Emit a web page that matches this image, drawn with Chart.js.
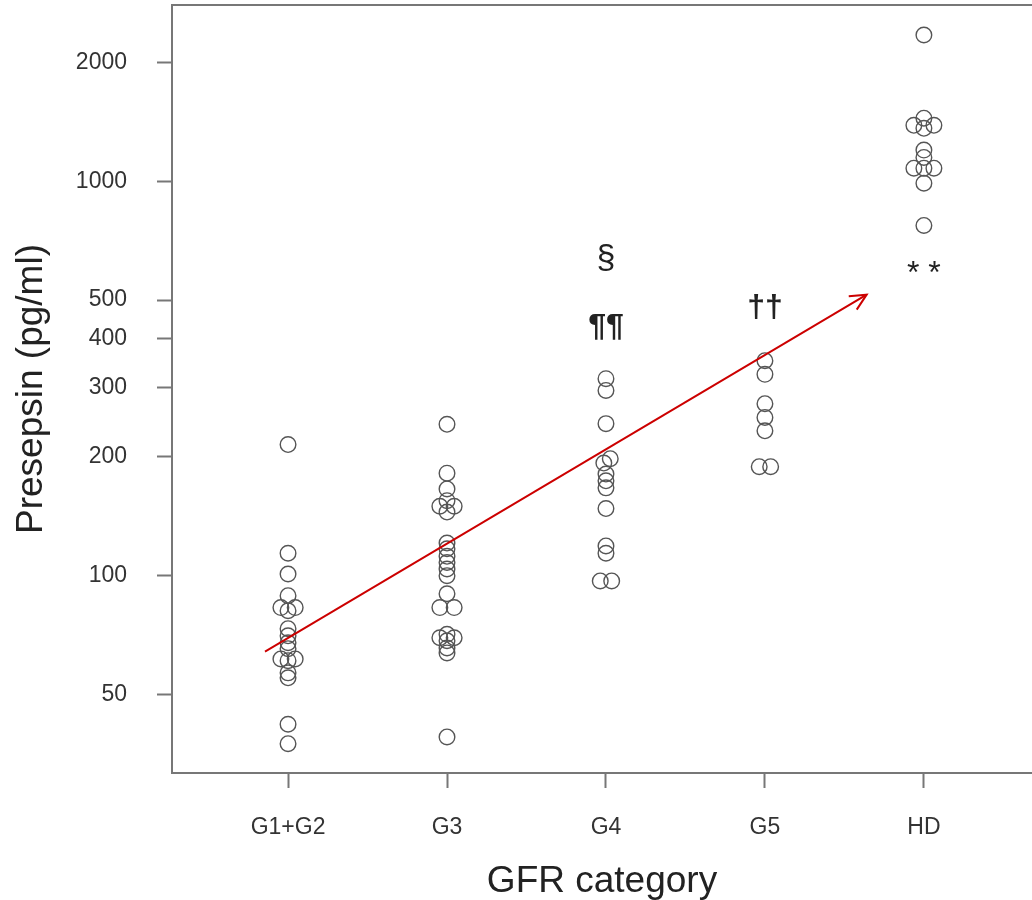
<!DOCTYPE html>
<html>
<head>
<meta charset="utf-8">
<script src="https://cdn.jsdelivr.net/npm/chart.js@4.4.1/dist/chart.umd.min.js"></script>
<style>
  html, body { margin: 0; padding: 0; background: #fff; }
</style>
</head>
<body>
<canvas id="chart" width="1032" height="900"></canvas>
<script>
const categories = ["G1+G2", "G3", "G4", "G5", "HD"];
const yTicks = [50, 100, 200, 300, 400, 500, 1000, 2000];

// presepsin per patient (pg/ml).
// jitter = sideways nudge of overlapping circles, in steps of JITTER_STEP
const g12Values = [215, 114, 101, 89, 83, 83, 81.5, 73.4, 70.4, 67.6, 65.3, 61.5, 61.5, 60.9, 56.7, 55.1, 42, 37.5];
const g12Jitter = [0, 0, 0, 0, -1, 1, 0, 0, 0, 0, 0, -1, 1, 0, 0, 0, 0, 0];
const g3Values = [242, 182, 166, 155, 150, 150, 145, 121, 117, 112, 108, 104, 100, 90, 83, 83, 71, 69.6, 69.6, 68.4, 65.6, 63.7, 39];
const g3Jitter = [0, 0, 0, 0, -1, 1, 0, 0, 0, 0, 0, 0, 0, 0, -1, 1, 0, -1, 1, 0, 0, 0, 0];
const g4Values = [316, 295, 243, 198, 193, 181, 174, 167, 148, 119, 114, 97, 97];
const g4Jitter = [0, 0, 0, 0.6, -0.3, 0, 0, 0, 0, 0, 0, -0.8, 0.8];
const g5Values = [351, 324, 273, 252, 233, 189, 189];
const g5Jitter = [0, 0, 0, 0, 0, -0.8, 0.8];
const hdValues = [2350, 1446, 1387, 1387, 1363, 1200, 1150, 1080, 1080, 1080, 989, 773];
const hdJitter = [0, 0, -1.4, 1.4, 0, 0, 0, -1.4, 0, 1.4, 0, 0];

// trend arrow (category position, pg/ml)
const arrowX = [0.855, 4.64];
const arrowY = [64.2, 516];

// significance marks above the groups
const markLabels = ["§", "¶¶", "††", "* *"];
const markCats = [3, 3, 4, 5];
const markValues = [638, 426, 476, 601];

const JITTER_STEP = 0.045;
const FONT = "'Liberation Sans', Arial, sans-serif";
const AXIS_GREY = "#777";

const groups = [
  [g12Values, g12Jitter], [g3Values, g3Jitter], [g4Values, g4Jitter],
  [g5Values, g5Jitter], [hdValues, hdJitter],
];

const pointSets = groups.map(([vals, jit], i) => ({
  label: categories[i],
  data: vals.map((v, k) => ({ x: i + 1 + jit[k] * JITTER_STEP, y: v })),
  pointStyle: "circle",
  pointRadius: 7.8,
  pointHoverRadius: 7.8,
  pointBorderWidth: 1.4,
  pointBorderColor: "#555",
  pointBackgroundColor: "rgba(0,0,0,0)",
  showLine: false,
}));

const arrowSet = {
  label: "trend",
  type: "line",
  data: arrowX.map((x, i) => ({ x, y: arrowY[i] })),
  borderColor: "#cc0000",
  borderWidth: 2,
  pointRadius: 0,
  fill: false,
};

// top frame line, arrow head, and the § ¶ † * marks
const extras = {
  id: "extras",
  afterDatasetsDraw(c) {
    const { ctx, chartArea: a, scales: { x, y } } = c;
    ctx.save();
    ctx.strokeStyle = AXIS_GREY;
    ctx.lineWidth = 2;
    ctx.beginPath();
    ctx.moveTo(a.left - 1, a.top);
    ctx.lineTo(a.right + 2, a.top);
    ctx.stroke();

    const x0 = x.getPixelForValue(arrowX[0]), y0 = y.getPixelForValue(arrowY[0]);
    const x1 = x.getPixelForValue(arrowX[1]), y1 = y.getPixelForValue(arrowY[1]);
    const ang = Math.atan2(y1 - y0, x1 - x0);
    const len = 18, spread = 0.45;
    ctx.strokeStyle = "#cc0000";
    ctx.lineWidth = 2;
    ctx.beginPath();
    ctx.moveTo(x1 - len * Math.cos(ang - spread), y1 - len * Math.sin(ang - spread));
    ctx.lineTo(x1, y1);
    ctx.lineTo(x1 - len * Math.cos(ang + spread), y1 - len * Math.sin(ang + spread));
    ctx.stroke();

    ctx.fillStyle = "#222";
    ctx.textAlign = "center";
    ctx.textBaseline = "middle";
    markLabels.forEach((t, i) => {
      const bold = t.startsWith("¶") || t.startsWith("†");
      const size = t.startsWith("*") ? "32px " : t.startsWith("§") ? "34px " : "32px ";
      ctx.font = (bold ? "bold " : "") + size + FONT;
      const dy = t.startsWith("*") ? 6 : 0;
      ctx.fillText(t, x.getPixelForValue(markCats[i]), y.getPixelForValue(markValues[i]) + dy);
    });
    ctx.restore();
  },
};

new Chart(document.getElementById("chart").getContext("2d"), {
  type: "scatter",
  data: { datasets: [arrowSet, ...pointSets] },
  options: {
    responsive: false,
    animation: false,
    devicePixelRatio: 1,
    layout: { autoPadding: false, padding: { top: 5, right: 0, bottom: 0, left: 0 } },
    plugins: { legend: { display: false }, tooltip: { enabled: false } },
    scales: {
      x: {
        type: "linear",
        min: 0.27,
        max: 5.68,
        afterBuildTicks: (s) => { s.ticks = categories.map((_, i) => ({ value: i + 1 })); },
        afterFit: (s) => { s.height = 127; s.paddingLeft = 0; s.paddingRight = 0; },
        ticks: {
          callback: (v) => categories[v - 1],
          color: "#333",
          font: { family: FONT, size: 23 },
          padding: 26,
          maxRotation: 0,
          autoSkip: false,
        },
        grid: { drawOnChartArea: false, drawTicks: true, tickLength: 15, tickColor: AXIS_GREY, tickWidth: 2 },
        border: { display: true, color: AXIS_GREY, width: 2 },
        title: {
          display: true,
          text: "GFR category",
          color: "#222",
          font: { family: FONT, size: 37, lineHeight: 1 },
          padding: { top: 0, bottom: 0 },
        },
      },
      y: {
        type: "logarithmic",
        min: 31.6,
        max: 2800,
        afterBuildTicks: (s) => { s.ticks = yTicks.map((v) => ({ value: v })); },
        afterFit: (s) => { s.width = 172; s.paddingTop = 0; s.paddingBottom = 0; },
        ticks: {
          callback: (v) => String(v),
          color: "#333",
          font: { family: FONT, size: 23 },
          padding: 30,
          autoSkip: false,
        },
        grid: { drawOnChartArea: false, drawTicks: true, tickLength: 15, tickColor: AXIS_GREY, tickWidth: 2 },
        border: { display: true, color: AXIS_GREY, width: 2 },
        title: {
          display: true,
          text: "Presepsin (pg/ml)",
          color: "#222",
          font: { family: FONT, size: 37 },
          padding: { top: 10, bottom: 0 },
        },
      },
    },
  },
  plugins: [extras],
});
</script>
</body>
</html>
